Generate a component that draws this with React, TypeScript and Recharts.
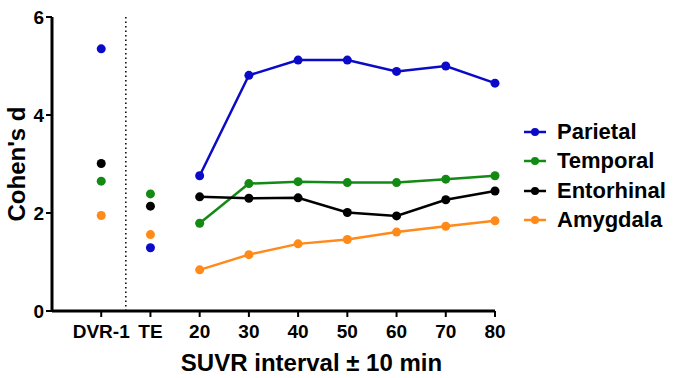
import React from "react";
import {
  ComposedChart,
  Line,
  Scatter,
  XAxis,
  YAxis,
  ReferenceLine,
} from "recharts";

// Category labels along x (index positions 0..8)
const categories = ["DVR-1", "TE", "20", "30", "40", "50", "60", "70", "80"];
const yTicks = [0, 2, 4, 6];

// Values at DVR-1 and TE (isolated points)
const parietalSingle = [5.35, 1.29];
const temporalSingle = [2.65, 2.39];
const entorhinalSingle = [3.01, 2.14];
const amygdalaSingle = [1.95, 1.56];

// Values at SUVR intervals 20..80
const parietalLine = [2.76, 4.81, 5.12, 5.12, 4.89, 5.0, 4.65];
const temporalLine = [1.79, 2.6, 2.64, 2.62, 2.62, 2.69, 2.76];
const entorhinalLine = [2.33, 2.3, 2.31, 2.01, 1.94, 2.27, 2.45];
const amygdalaLine = [0.84, 1.15, 1.37, 1.46, 1.61, 1.73, 1.84];

const seriesNames = ["Parietal", "Temporal", "Entorhinal", "Amygdala"];
const colors = ["#0a0ac8", "#138a13", "#000000", "#ff8a1a"];

const singles = [parietalSingle, temporalSingle, entorhinalSingle, amygdalaSingle];
const lines = [parietalLine, temporalLine, entorhinalLine, amygdalaLine];

const toSingleData = (vals: number[]) => vals.map((v, i) => ({ x: i, y: v }));
const toLineData = (vals: number[]) => vals.map((v, i) => ({ x: i + 2, y: v }));

const FONT = "'Liberation Sans', Arial, sans-serif";

export default function App() {
  return (
    <div style={{ position: "absolute", left: 0, top: 0, width: 673, height: 378, background: "#fff", fontFamily: FONT }}>
      <ComposedChart
        width={673}
        height={378}
        margin={{ top: 17, right: 178, bottom: 0, left: 0 }}
      >
        <XAxis
          type="number"
          dataKey="x"
          domain={[-1, 8]}
          ticks={[0, 1, 2, 3, 4, 5, 6, 7, 8]}
          tickFormatter={(v: number) => categories[v] ?? ""}
          interval={0}
          height={67}
          axisLine={{ stroke: "#000", strokeWidth: 3 }}
          tickLine={{ stroke: "#000", strokeWidth: 2 }}
          tickSize={6}
          tickMargin={8}
          tick={{ fill: "#000", fontSize: 19, fontWeight: "bold", fontFamily: FONT }}
          label={{
            value: "SUVR interval ± 10 min",
            position: "insideBottom",
            offset: 7,
            dx: 38,
            fill: "#000",
            fontSize: 24,
            fontWeight: "bold",
            fontFamily: FONT,
          }}
        />
        <YAxis
          type="number"
          dataKey="y"
          domain={[0, 6]}
          ticks={yTicks}
          width={52}
          axisLine={{ stroke: "#000", strokeWidth: 3 }}
          tickLine={{ stroke: "#000", strokeWidth: 2 }}
          tickSize={6}
          tickMargin={2}
          tick={{ fill: "#000", fontSize: 19, fontWeight: "bold", fontFamily: FONT }}
          label={{
            value: "Cohen's d",
            angle: -90,
            position: "insideLeft",
            dx: 11,
            dy: 0,
            fill: "#000",
            fontSize: 24,
            fontWeight: "bold",
            fontFamily: FONT,
            style: { textAnchor: "middle" },
          }}
        />
        <ReferenceLine x={0.5} stroke="#000" strokeWidth={1.5} strokeDasharray="1.5 3" />
        {lines.map((vals, i) => (
          <Line
            key={seriesNames[i]}
            data={toLineData(vals)}
            dataKey="y"
            name={seriesNames[i]}
            stroke={colors[i]}
            strokeWidth={2.5}
            dot={{ r: 4.5, fill: colors[i], stroke: colors[i], strokeWidth: 0 }}
            activeDot={false}
            isAnimationActive={false}
            type="linear"
          />
        ))}
        {singles.map((vals, i) => (
          <Scatter
            key={seriesNames[i] + "-single"}
            data={toSingleData(vals)}
            dataKey="y"
            fill={colors[i]}
            shape={(p: any) => <circle cx={p.cx} cy={p.cy} r={4.5} fill={colors[i]} />}
            isAnimationActive={false}
          />
        ))}
      </ComposedChart>
      <div style={{ position: "absolute", left: 522, top: 117, fontFamily: FONT }}>
        {seriesNames.map((n, i) => (
          <div key={n} style={{ display: "flex", alignItems: "center", height: 29.5 }}>
            <svg width={26} height={12} style={{ marginRight: 9 }}>
              <line x1={2} y1={6} x2={24} y2={6} stroke={colors[i]} strokeWidth={2.5} />
              <circle cx={13} cy={6} r={4} fill={colors[i]} />
            </svg>
            <span style={{ fontSize: 22, fontWeight: "bold", color: "#000", lineHeight: "24px" }}>{n}</span>
          </div>
        ))}
      </div>
    </div>
  );
}
